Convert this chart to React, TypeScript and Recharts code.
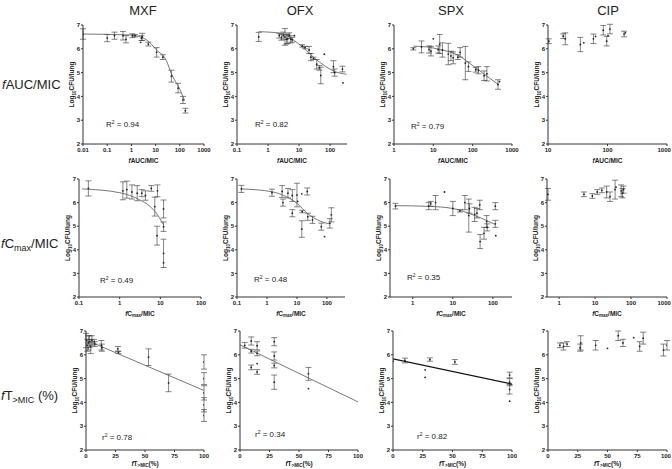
import { ComposedChart, Scatter, ErrorBar, Line, XAxis, YAxis, Label } from "recharts";

const FONT = '"Liberation Sans", Arial, sans-serif';
const INK = "#222";

// [x, mean log10 CFU, sd]  (sd 0 = single point)
type Pt = [number, number, number];
type Fit = [number, number][];

// ---- fAUC/MIC
const mxfAuc: Pt[] = [
  [0.01, 6.62, 0.22], [0.1, 6.45, 0.15], [0.2, 6.55, 0.15], [0.45, 6.55, 0.18], [0.6, 6.4, 0.15],
  [1.1, 6.55, 0.08], [1.4, 6.55, 0.05], [2.4, 6.27, 0], [2.6, 6.45, 0.1], [2.8, 6.5, 0.15],
  [5, 6.2, 0.08], [11, 5.85, 0.2], [20, 5.65, 0.1], [45, 4.85, 0.25], [85, 4.35, 0.2],
  [135, 3.85, 0.15], [170, 3.4, 0.1],
];
const mxfAucFit: Fit = [[0.01, 6.62], [1, 6.58], [2, 6.52], [4.3, 6.37], [11, 5.95], [28, 5.5], [45, 4.95], [100, 4.3], [160, 3.82]];

const ofxAuc: Pt[] = [
  [0.5, 6.5, 0.19], [2.3, 6.55, 0.1], [2.7, 6.48, 0.12], [3.1, 6.55, 0.15], [3.5, 6.5, 0.35],
  [3.9, 6.4, 0.2], [4.3, 6.42, 0.2], [4.8, 6.55, 0.12], [5.4, 6.4, 0.15], [6, 6.38, 0.1],
  [7.1, 6.55, 0], [12.7, 6.12, 0.05], [15.7, 6.05, 0.05], [21, 5.95, 0.15], [24, 5.65, 0.15],
  [29, 5.6, 0.05], [37, 5.35, 0.2], [45, 5.2, 0.1], [50, 4.88, 0.35], [65, 5.77, 0],
  [128, 5.25, 0.25], [140, 5.0, 0.15], [250, 5.15, 0.12], [260, 4.57, 0],
];
const ofxAucFit: Fit = [[0.5, 6.72], [2.7, 6.65], [7.3, 6.33], [15.5, 5.98], [29, 5.65], [69, 5.27], [145, 5.04], [340, 4.93]];

const spxAuc: Pt[] = [
  [3.1, 6.0, 0.05], [5, 6.08, 0.25], [7.8, 5.97, 0.15], [8.7, 5.9, 0.2], [10, 6.42, 0],
  [13.3, 5.97, 0.15], [14.5, 6.2, 0.4], [17, 5.95, 0.3], [24, 5.78, 0.45], [28, 5.7, 0.2],
  [32, 5.62, 0.25], [42, 5.65, 0.1], [48, 5.85, 0.2], [65, 5.4, 0.7], [78, 5.25, 0.2],
  [120, 5.12, 0.1], [140, 5.1, 0.15], [195, 4.87, 0.2], [230, 4.95, 0.3], [440, 4.5, 0.2],
  [480, 4.62, 0],
];
const spxAucFit: Fit = [[3.1, 6.11], [6.7, 6.08], [14.7, 5.97], [39, 5.76], [105, 5.27], [230, 4.85], [457, 4.49]];

const cipAuc: Pt[] = [
  [10.3, 6.32, 0.1], [18, 6.53, 0.1], [19.5, 6.42, 0.25], [35, 6.18, 0.3], [40, 6.25, 0],
  [58, 6.42, 0.2], [63, 6.52, 0], [85, 6.78, 0.2], [97, 6.32, 0.2], [102, 6.55, 0],
  [110, 6.83, 0.2], [190, 6.62, 0.12], [200, 6.67, 0],
];

// ---- fCmax/MIC
const mxfCmax: Pt[] = [
  [0.17, 6.6, 0.32], [1.2, 6.5, 0.38], [1.5, 6.55, 0.36], [2.0, 6.45, 0.3], [2.7, 6.4, 0.32],
  [3.5, 6.4, 0.15], [4.3, 6.3, 0.2], [6.0, 6.6, 0.12], [7.3, 5.83, 0.4], [8.5, 6.5, 0.25],
  [8.3, 4.6, 0.4], [12, 5.73, 0.38], [12, 4.98, 0.2], [12, 3.85, 0.6], [12, 3.45, 0],
];
const mxfCmaxFit: Fit = [[0.12, 6.58], [1, 6.42], [3.1, 6.12], [5.5, 5.85], [8.8, 5.45], [12, 5.05]];

const ofxCmax: Pt[] = [
  [0.14, 6.58, 0.15], [1.47, 6.42, 0.15], [3.2, 6.47, 0.25], [3.4, 6.0, 0.15], [5, 6.4, 0.2],
  [7, 6.3, 0.25], [7, 5.55, 0.15], [10, 6.32, 0.5], [10.5, 6.05, 0], [14.5, 6.37, 0],
  [14.5, 4.88, 0.35], [15, 5.62, 0.05], [22, 6.47, 0.15], [23, 5.4, 0.15], [33, 5.27, 0.15],
  [65, 4.98, 0.15], [83, 4.56, 0], [125, 5.12, 0.2], [140, 5.48, 0.3],
];
const ofxCmaxFit: Fit = [[0.14, 6.58], [1.47, 6.46], [4.7, 6.23], [10, 5.97], [22, 5.55], [48, 5.27], [118, 5.1]];

const spxCmax: Pt[] = [
  [0.37, 5.85, 0.12], [2.5, 5.85, 0.15], [2.8, 5.95, 0.1], [3.7, 6.0, 0.3], [6.2, 6.45, 0],
  [10, 5.75, 0.3], [15, 5.65, 0.05], [20, 6.0, 0.3], [25, 5.45, 0.7], [26, 5.75, 0.2],
  [35, 5.5, 0.3], [40, 5.55, 0.2], [47, 5.9, 0.2], [48, 4.35, 0.3], [60, 4.7, 0.25],
  [70, 5.2, 0.25], [72, 4.95, 0.15], [115, 5.85, 0.15], [115, 5.1, 0.15], [118, 4.6, 0],
];
const spxCmaxFit: Fit = [[0.37, 5.87], [2.6, 5.84], [10, 5.75], [32, 5.48], [70, 5.24], [110, 5.08]];

const cipCmax: Pt[] = [
  [0.49, 6.35, 0.25], [4.9, 6.35, 0.1], [8.4, 6.28, 0.1], [11.5, 6.45, 0.1], [15.4, 6.52, 0.1],
  [21, 6.45, 0.25], [26, 6.25, 0.2], [36, 6.55, 0.4], [38, 6.65, 0], [53, 6.5, 0.25],
  [58, 6.4, 0.2], [62, 6.55, 0.15],
];

// ---- fT>MIC (%)
const mxfT: Pt[] = [
  [0, 6.6, 0.3], [1, 6.4, 0.25], [2, 6.5, 0.3], [3, 6.55, 0.25], [4, 6.35, 0.3],
  [5, 6.6, 0.2], [7, 6.55, 0.1], [7.5, 6.45, 0.1], [13, 6.4, 0.2], [13.5, 6.3, 0.15],
  [27, 6.25, 0.1], [27.5, 6.1, 0.05], [53, 5.9, 0.35], [70, 4.82, 0.37],
  [100, 5.7, 0.3], [100, 5.0, 0.25], [100, 4.4, 0.3], [100, 3.9, 0.3], [100, 3.45, 0.25],
];
const mxfTFit: Fit = [[0, 6.62], [100, 4.5]];

const ofxT: Pt[] = [
  [4, 6.4, 0.12], [9.5, 6.58, 0.17], [9.5, 6.15, 0.08], [9.5, 5.47, 0.1], [14.5, 6.38, 0.17],
  [14.5, 6.06, 0.1], [14.5, 5.63, 0], [14.5, 5.28, 0.1], [29, 6.55, 0.17], [29, 5.95, 0.17],
  [29, 5.55, 0.1], [29, 4.85, 0.3], [58, 5.2, 0.27], [58, 4.58, 0],
];
const ofxTFit: Fit = [[0, 6.42], [100, 4.02]];

const spxT: Pt[] = [
  [0, 5.73, 0], [10, 5.76, 0.1], [27, 5.37, 0], [27, 5.05, 0], [31, 5.8, 0.07],
  [52, 5.7, 0.1], [98, 5.15, 0.12], [98, 4.85, 0.15], [98, 4.55, 0.2], [98, 4.05, 0],
];
const spxTFit: Fit = [[0, 5.83], [100, 4.77]];

const cipT: Pt[] = [
  [10, 6.4, 0.1], [13, 6.35, 0.15], [16, 6.45, 0.1], [27, 6.3, 0.15], [27.5, 6.5, 0.3],
  [40, 6.4, 0.2], [50, 6.27, 0], [59, 6.8, 0.2], [63, 6.5, 0.15], [72, 6.72, 0],
  [77, 6.35, 0.2], [80, 6.7, 0.25], [97, 6.2, 0.25], [100, 6.4, 0.2],
];

const drugs = ["MXF", "OFX", "SPX", "CIP"];
const drugCenters = [143, 300, 451, 608];
const yTicks = [2, 3, 4, 5, 6, 7];
const tTicks = [0, 25, 50, 75, 100];

type Kind = "auc" | "cmax" | "t";
type PanelDef = {
  L: number; R: number; T: number; B: number;
  data: Pt[]; fit?: Fit; log: boolean; domain: [number, number]; ticks: number[];
  kind: Kind; r2?: string; r2dx?: number; r2dy?: number; lw?: number;
};

const panels: PanelDef[] = [
  { L: 83, R: 204, T: 25, B: 144, data: mxfAuc, fit: mxfAucFit, log: true, domain: [0.01, 1000], ticks: [0.01, 0.1, 1, 10, 100, 1000], kind: "auc", r2: "R|0.94", r2dx: 23, r2dy: 19 },
  { L: 237, R: 347, T: 25, B: 144, data: ofxAuc, fit: ofxAucFit, log: true, domain: [0.1, 350], ticks: [0.1, 1, 10, 100], kind: "auc", r2: "R|0.82", r2dx: 18, r2dy: 19 },
  { L: 394, R: 512, T: 25, B: 144, data: spxAuc, fit: spxAucFit, log: true, domain: [1, 1000], ticks: [1, 10, 100, 1000], kind: "auc", r2: "R|0.79", r2dx: 17, r2dy: 17 },
  { L: 548, R: 667, T: 25, B: 144, data: cipAuc, log: true, domain: [10, 1000], ticks: [10, 100, 1000], kind: "auc" },
  { L: 79, R: 201, T: 179, B: 297, data: mxfCmax, fit: mxfCmaxFit, log: true, domain: [0.1, 100], ticks: [0.1, 1, 10, 100], kind: "cmax", r2: "R|0.49", r2dx: 21, r2dy: 16 },
  { L: 237, R: 345, T: 179, B: 297, data: ofxCmax, fit: ofxCmaxFit, log: true, domain: [0.1, 400], ticks: [0.1, 1, 10, 100], kind: "cmax", r2: "R|0.48", r2dx: 17, r2dy: 17 },
  { L: 390, R: 512, T: 179, B: 297, data: spxCmax, fit: spxCmaxFit, log: true, domain: [0.27, 300], ticks: [1, 10, 100], kind: "cmax", r2: "R|0.35", r2dx: 17, r2dy: 19 },
  { L: 547, R: 667, T: 179, B: 297, data: cipCmax, log: true, domain: [0.46, 1000], ticks: [1, 10, 100, 1000], kind: "cmax" },
  { L: 86, R: 204, T: 331, B: 450, data: mxfT, fit: mxfTFit, log: false, domain: [0, 100], ticks: tTicks, kind: "t", r2: "r|0.78", r2dx: 16, r2dy: 12 },
  { L: 240, R: 358, T: 331, B: 450, data: ofxT, fit: ofxTFit, log: false, domain: [0, 100], ticks: tTicks, kind: "t", r2: "r|0.34", r2dx: 15, r2dy: 15 },
  { L: 393, R: 512, T: 331, B: 450, data: spxT, fit: spxTFit, log: false, domain: [0, 100], ticks: tTicks, kind: "t", r2: "r|0.82", r2dx: 24, r2dy: 13, lw: 1.3 },
  { L: 548, R: 667, T: 331, B: 450, data: cipT, log: false, domain: [0, 100], ticks: tTicks, kind: "t" },
];

const tickStyle = { fontSize: 6, fontWeight: 700, fill: INK, fontFamily: FONT };

// x tick that never runs past the page's right edge
function makeXTick(maxX: number) {
  return (props: any) => {
    const label = String(props.payload.value);
    const half = label.length * 1.7;
    const cx = Math.min(props.x, maxX - half);
    return (
      <text x={cx} y={props.y + 5} textAnchor="middle" {...tickStyle}>
        {label}
      </text>
    );
  };
}

function xTitle(kind: Kind) {
  const dyTitle = kind === "t" ? 15.5 : 18.5;
  return (props: any) => {
    const { x, y, width } = props.viewBox;
    return (
      <text x={x + width / 2} y={y + dyTitle} textAnchor="middle" fontSize={6.5} fontWeight={700} fill={INK} fontFamily={FONT}>
        <tspan fontStyle="italic">f</tspan>
        {kind === "auc" && <tspan>AUC/MIC</tspan>}
        {kind === "cmax" && (
          <>
            <tspan>C</tspan>
            <tspan fontSize={4.5} dy={1.5}>max</tspan>
            <tspan dy={-1.5}>/MIC</tspan>
          </>
        )}
        {kind === "t" && (
          <>
            <tspan>T</tspan>
            <tspan fontSize={4.5} dy={1.5}>&gt;MIC</tspan>
            <tspan dy={-1.5}>(%)</tspan>
          </>
        )}
      </text>
    );
  };
}

const yTitle = (props: any) => {
  const { x, y, width, height } = props.viewBox;
  const tx = x + width - 9;
  const ty = y + height / 2;
  return (
    <text transform={`translate(${tx},${ty}) rotate(-90)`} textAnchor="middle" fontSize={6.5} fontWeight={700} fill={INK} fontFamily={FONT}>
      <tspan>Log</tspan>
      <tspan fontSize={4.5} dy={1.5}>10</tspan>
      <tspan dy={-1.5}>CFU/lung</tspan>
    </text>
  );
};

const Dot = (props: any) => <circle cx={props.cx} cy={props.cy} r={0.9} fill={INK} />;

function Panel({ p }: { p: PanelDef }) {
  const W = p.R - p.L + 32;
  const H = p.B - p.T + 30;
  const pts = p.data.map(([x, y, e]) => ({ x, y, e }));
  const line = p.fit ? p.fit.map(([x, y]) => ({ x, y })) : null;
  const [sym, val] = p.r2 ? p.r2.split("|") : ["", ""];
  const left = p.L - 20;
  return (
    <div style={{ position: "absolute", left, top: p.T - 6, width: W, height: H }}>
      <ComposedChart width={W} height={H} margin={{ top: 6, right: 12, left: 0, bottom: 0 }}>
        <XAxis
          dataKey="x"
          type="number"
          scale={p.log ? "log" : "linear"}
          domain={p.domain}
          ticks={p.ticks}
          interval={0}
          allowDataOverflow
          height={24}
          tick={makeXTick(671 - left)}
          tickSize={2}
          tickMargin={1}
          stroke="#333"
          label={<Label content={xTitle(p.kind)} />}
        />
        <YAxis
          dataKey="y"
          type="number"
          domain={[2, 7]}
          ticks={yTicks}
          interval={0}
          allowDataOverflow
          width={20}
          tick={tickStyle}
          tickSize={2}
          tickMargin={1}
          stroke="#333"
          label={<Label content={yTitle} />}
        />
        <Scatter data={pts} shape={Dot} isAnimationActive={false}>
          <ErrorBar dataKey="e" direction="y" width={3} stroke="#333" strokeWidth={0.6} />
        </Scatter>
        {line && (
          <Line
            data={line}
            dataKey="y"
            type={line.length > 2 ? "monotone" : "linear"}
            dot={false}
            stroke={p.lw ? "#111" : "#555"}
            strokeWidth={p.lw ?? 0.8}
            isAnimationActive={false}
          />
        )}
      </ComposedChart>
      {p.r2 && (
        <div
          style={{
            position: "absolute",
            left: 20 + (p.r2dx ?? 20),
            top: p.B - (p.r2dy ?? 18) - (p.T - 6) - 5,
            fontSize: 8,
            lineHeight: "10px",
            whiteSpace: "nowrap",
            color: INK,
          }}
        >
          {sym}
          <span style={{ fontSize: 5, position: "relative", top: -3 }}>2</span> = {val}
        </div>
      )}
    </div>
  );
}

const rowLabel = { position: "absolute" as const, left: 1, fontSize: 13, lineHeight: "18px", whiteSpace: "nowrap" as const };
const subStyle = { fontSize: 9, position: "relative" as const, top: 3 };

export default function App() {
  return (
    <div
      style={{
        position: "absolute",
        left: 0,
        top: 0,
        width: 672,
        height: 469,
        background: "#fff",
        fontFamily: FONT,
        color: INK,
        overflow: "hidden",
      }}
    >
      {drugs.map((d, i) => (
        <div
          key={d}
          style={{ position: "absolute", left: drugCenters[i] - 30, width: 60, top: 3, textAlign: "center", fontSize: 13, lineHeight: "16px" }}
        >
          {d}
        </div>
      ))}
      <div style={{ ...rowLabel, left: 2, top: 76 }}>
        <i>f</i>AUC/MIC
      </div>
      <div style={{ ...rowLabel, top: 235 }}>
        <i>f</i>C<span style={subStyle}>max</span>/MIC
      </div>
      <div style={{ ...rowLabel, top: 387 }}>
        <i>f</i>T<span style={subStyle}>&gt;MIC</span> (%)
      </div>
      {panels.map((p, i) => (
        <Panel key={i} p={p} />
      ))}
    </div>
  );
}
